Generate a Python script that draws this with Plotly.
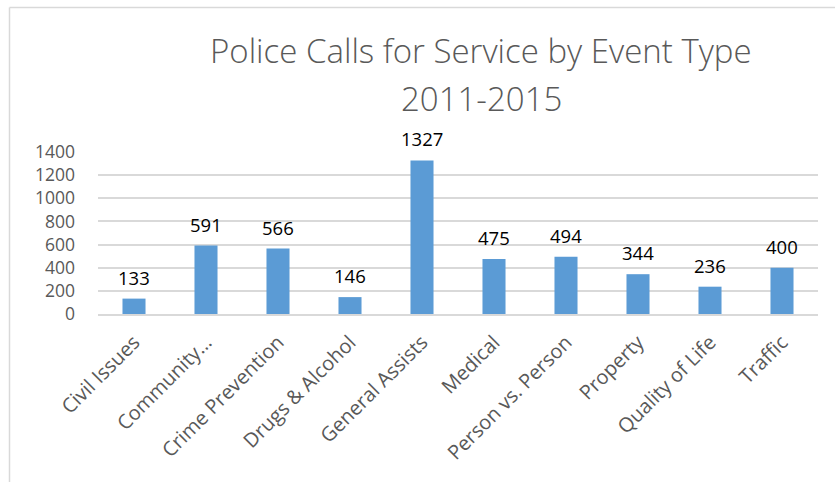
import plotly.graph_objects as go

# Police calls for service, totals for 2011-2015
categories = ["Civil Issues", "Community…", "Crime Prevention", "Drugs & Alcohol",
              "General Assists", "Medical", "Person vs. Person", "Property",
              "Quality of Life", "Traffic"]
calls = [133, 591, 566, 146, 1327, 475, 494, 344, 236, 400]
y_ticks = [0, 200, 400, 600, 800, 1000, 1200, 1400]
title_lines = ["Police Calls for Service by Event Type", "2011-2015"]

FONT = "Open Sans"
GRID = "#D9D9D9"
TEXT_GRAY = "#595959"

fig = go.Figure(
    go.Bar(
        x=categories,
        y=calls,
        marker=dict(color="#5B9BD5", line=dict(width=0)),
        width=0.32,
        hoverinfo="x+y",
    )
)

# value labels above each bar
for cat, val in zip(categories, calls):
    fig.add_annotation(
        x=cat, y=val, text=str(val), showarrow=False,
        yanchor="bottom", yshift=7,
        font=dict(family=FONT, size=18.5, color="#000000"),
    )

# plot-area pixel box, used to place the frame and title lines
L, R, T, B = 98, 818, 152, 314
W, H = R - L, B - T
def px_x(px):
    return (px - L) / W
def px_y(py):
    return (B - py) / H

# two-line chart title
for line, cy in zip(title_lines, [51, 98]):
    fig.add_annotation(
        xref="paper", yref="paper", x=px_x(481), y=px_y(cy),
        xanchor="center", yanchor="middle", showarrow=False,
        text=line,
        font=dict(family=FONT, size=33, color=TEXT_GRAY, weight=300),
    )

# light outer frame of the chart area
fig.add_shape(type="line", xref="paper", yref="paper",
              x0=px_x(9.5), x1=px_x(840), y0=px_y(7.5), y1=px_y(7.5),
              line=dict(color=GRID, width=1.5))
fig.add_shape(type="line", xref="paper", yref="paper",
              x0=px_x(9.5), x1=px_x(9.5), y0=px_y(7.5), y1=px_y(490),
              line=dict(color=GRID, width=1.5))

fig.update_layout(
    width=835, height=482,
    margin=dict(l=L, r=835 - R, t=T, b=482 - B),
    paper_bgcolor="white", plot_bgcolor="white",
    showlegend=False,
    bargap=0.68,
    xaxis=dict(
        tickangle=-45,
        tickfont=dict(family=FONT, size=20, color=TEXT_GRAY),
        showline=True, linecolor=GRID, linewidth=1.5,
        showgrid=False, ticks="",
        ticklabelstandoff=7,
    ),
    yaxis=dict(
        range=[0, 1400],
        tickvals=y_ticks,
        tickfont=dict(family=FONT, size=17.5, color=TEXT_GRAY),
        showgrid=True, gridcolor=GRID, gridwidth=1.5,
        zeroline=False, showline=False, ticks="",
        ticklabelstandoff=22,
    ),
)

fig.write_html("out.html")
